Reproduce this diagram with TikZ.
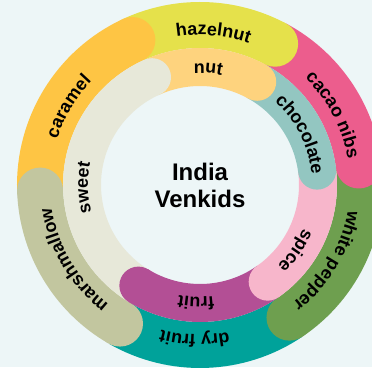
\documentclass[tikz,border=0pt]{standalone}
\usepackage{fontspec}
\setmainfont{Liberation Sans}
\usepackage{tikz}
\usetikzlibrary{decorations.text}
\usepackage{xcolor}
\definecolor{bgblue}{HTML}{EDF6F7}
\definecolor{hazelc}{HTML}{E5E14B}
\definecolor{cacaoc}{HTML}{EC5D8D}
\definecolor{pepperc}{HTML}{6E9F4F}
\definecolor{dryfruitc}{HTML}{00A29A}
\definecolor{marshc}{HTML}{C2C69F}
\definecolor{caramelc}{HTML}{FEC544}
\definecolor{nutc}{HTML}{FED37E}
\definecolor{chococ}{HTML}{93C6C1}
\definecolor{spicec}{HTML}{F7B6CB}
\definecolor{fruitc}{HTML}{B34F95}
\definecolor{sweetc}{HTML}{E7E8D9}
\newcommand{\ringfont}{\fontsize{18}{18}\selectfont\bfseries}

\begin{document}
\begin{tikzpicture}[x=1pt,y=1pt]
% Background and page size
\fill[bgblue] (0,0) rectangle (372,367);
\useasboundingbox (0,0) rectangle (372,367);
\clip (0,0) rectangle (372,367);
\coordinate (c) at (200,182);

% Outer ring (radius 137..183): bodies, then round ends
\foreach \a/\b/\col in {115/62/hazelc, 62/7/cacaoc, 7/-56/pepperc, -56/-120/dryfruitc, 240/182/marshc, 182/115/caramelc} {
    \draw[\col,line width=46pt] ([shift={(\a:160pt)}]c) arc[start angle=\a, end angle=\b, radius=160pt];
}
\foreach \a/\col in {115/caramelc, 62/hazelc, 7/cacaoc, -56/pepperc, 182/marshc, 240/marshc} {
    \fill[\col] ([shift={(\a:160pt)}]c) circle[radius=23pt];
}

% Inner ring (radius 99..137): bodies, then round ends
\foreach \a/\b/\col in {238.5/114/sweetc, 114/61/nutc, 61/7/chococ, 7/-55/spicec, -55/-121.5/fruitc} {
    \draw[\col,line width=38pt] ([shift={(\a:118pt)}]c) arc[start angle=\a, end angle=\b, radius=118pt];
}
\foreach \a/\col in {114/sweetc, 61/nutc, 7/chococ, -55/spicec, 238.5/fruitc} {
    \fill[\col] ([shift={(\a:118pt)}]c) circle[radius=19pt];
}

% Labels along the rings (clockwise, tops outward)
\foreach \m/\txt in {85/hazelnut, 27.8/cacao nibs, -30.8/white pepper, -92/dry fruit, 210.6/marshmallow, 149.2/caramel} {
    \path[decorate,decoration={text along path, text align=center, text={|\ringfont|\txt}}]
        ([shift={({\m+60}:150pt)}]c) arc[start angle=\m+60, end angle=\m-60, radius=150pt];
}
\foreach \m/\txt in {86/nut, 26.8/chocolate, -34.6/spice, -92/fruit, 181.5/sweet} {
    \path[decorate,decoration={text along path, text align=center, text={|\ringfont|\txt}}]
        ([shift={({\m+60}:112pt)}]c) arc[start angle=\m+60, end angle=\m-60, radius=112pt];
}

% Centre title
\node[font=\fontsize{24}{27}\selectfont\bfseries,align=center] (title) at (c) {India\\Venkids};
\end{tikzpicture}
\end{document}
